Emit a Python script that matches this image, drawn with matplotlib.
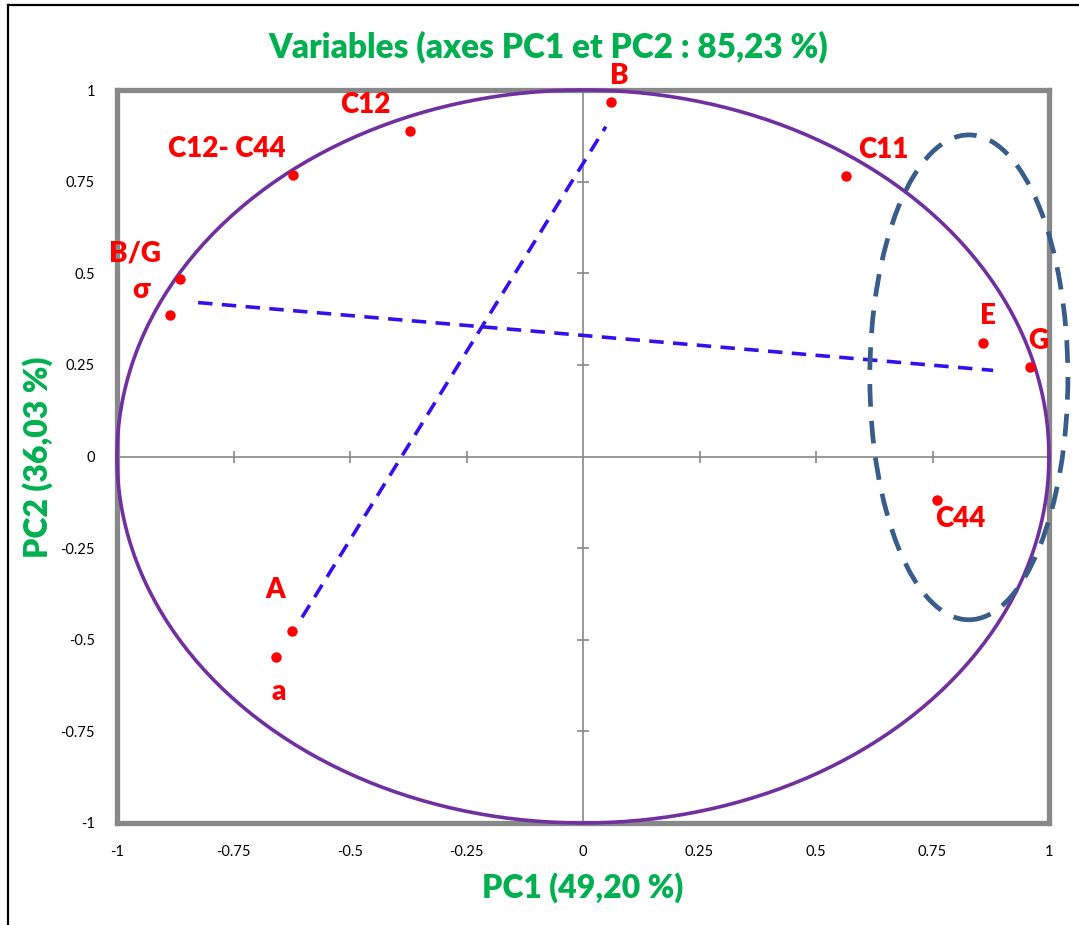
import numpy as np
import matplotlib.pyplot as plt
from matplotlib.patches import Ellipse
from matplotlib.lines import Line2D

# variable coordinates on the first two principal components
names = ['B', 'C12', 'C12- C44', 'C11', 'B/G', 'σ', 'E', 'G', 'C44', 'A', 'a']
pc1 = [0.060, -0.371, -0.622, 0.564, -0.865, -0.886, 0.858, 0.959, 0.760, -0.624, -0.659]
pc2 = [0.966, 0.887, 0.767, 0.764, 0.483, 0.385, 0.311, 0.243, -0.120, -0.475, -0.548]

# label offsets (points) from each marker
offsets = [(6, 19), (-32, 19), (-48, 19), (27, 19), (-32, 19), (-21, 18),
           (4, 19), (6, 19), (17, -13), (-12, 29), (2, -25)]

# two dashed guide lines
line1_x = [-0.603, 0.049]
line1_y = [-0.439, 0.900]
line2_x = [-0.826, 0.880]
line2_y = [0.420, 0.235]

# group ellipse (center, width, height)
grp_center = (0.828, 0.216)
grp_w, grp_h = 0.425, 1.323

ticks = [-1, -0.75, -0.5, -0.25, 0, 0.25, 0.5, 0.75, 1]
tick_labels = ['-1', '-0.75', '-0.5', '-0.25', '0', '0.25', '0.5', '0.75', '1']

green = '#00B050'
red = '#FF0000'
grey = '#878787'

plt.rcParams['font.family'] = ['Lato', 'DejaVu Sans']

fig = plt.figure(figsize=(10.79, 9.25), dpi=100)
ax = fig.add_axes([117/1079, 1 - 823/925, (1049-117)/1079, (823-90)/925])
ax.set_xlim(-1, 1)
ax.set_ylim(-1, 1)

for sp in ax.spines.values():
    sp.set_color('#888888')
    sp.set_linewidth(3.8)
    sp.set_zorder(1)

ax.set_xticks(ticks)
ax.set_xticklabels(tick_labels)
ax.set_yticks(ticks)
ax.set_yticklabels(tick_labels)
ax.tick_params(axis='both', length=0, labelsize=10.5, colors='black')
ax.tick_params(axis='x', pad=16)
ax.tick_params(axis='y', pad=16)

# zero axes with cross ticks
ax.axhline(0, color=grey, lw=1.2, zorder=1)
ax.axvline(0, color=grey, lw=1.2, zorder=1)
inner = [t for t in ticks if abs(t) < 1 and t != 0]
ax.plot(inner, [0]*len(inner), ls='none', marker='|', ms=8, mew=1.2, color=grey, zorder=1)
ax.plot([0]*len(inner), inner, ls='none', marker='_', ms=8, mew=1.2, color=grey, zorder=1)

# correlation circle
th = np.linspace(0, 2*np.pi, 400)
ax.plot(np.cos(th), np.sin(th), color='#7030A0', lw=2.6, zorder=2, clip_on=False)

# dashed guides
ax.plot(line1_x, line1_y, color='#3311EE', lw=2.6, ls=(0, (4, 2.6)), zorder=3)
ax.plot(line2_x, line2_y, color='#3311EE', lw=2.6, ls=(0, (4, 2.6)), zorder=3)

ell = Ellipse(grp_center, grp_w, grp_h, fill=False, ec='#385D8A', lw=3.4,
              ls=(0, (4.8, 3)), zorder=3, clip_on=False)
ax.add_patch(ell)

ax.plot(pc1, pc2, 'o', color=red, ms=6.5, zorder=4, clip_on=False)
for n, x, y, off in zip(names, pc1, pc2, offsets):
    ax.annotate(n, (x, y), xytext=off, textcoords='offset points',
                ha='center', va='center', color=red, fontsize=20,
                fontweight='heavy', annotation_clip=False, zorder=5)

fig.text(548/1079, 1 - 47/925, 'Variables (axes PC1 et PC2 : 85,23 %)',
         ha='center', va='center', color=green, fontsize=24, fontweight='heavy')
fig.text(583/1079, 1 - 888/925, 'PC1 (49,20 %)', ha='center', va='center',
         color=green, fontsize=23, fontweight='heavy')
fig.text(38/1079, 1 - 457/925, 'PC2 (36,03 %)', ha='center', va='center',
         rotation=90, color=green, fontsize=23, fontweight='heavy')

# outer frame (left and top edges)
fig.add_artist(Line2D([7.5/1079, 7.5/1079], [0, 1 - 4.5/925], color='black', lw=1.6))
fig.add_artist(Line2D([7.5/1079, 1], [1 - 4.5/925, 1 - 4.5/925], color='black', lw=1.6))

fig.savefig('out.png', dpi=100)
